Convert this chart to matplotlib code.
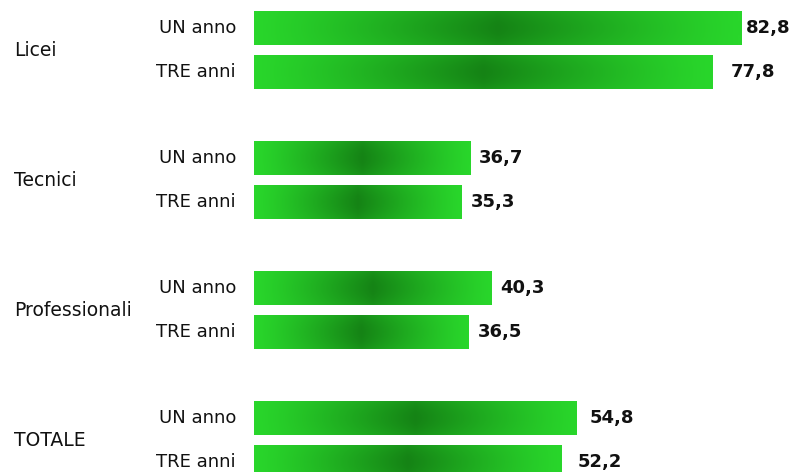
import numpy as np
import matplotlib
matplotlib.use("Agg")
import matplotlib.pyplot as plt
from matplotlib.colors import LinearSegmentedColormap

groups = ["Licei", "Tecnici", "Professionali", "TOTALE"]
periods = ["UN anno", "TRE anni"]
values = [
    [82.8, 77.8],
    [36.7, 35.3],
    [40.3, 36.5],
    [54.8, 52.2],
]

# gap between bar end and its value label, in points
label_pad = [3, 13, 6.5, 6.5, 6, 6, 9.5, 12]

fig = plt.figure(figsize=(7.93, 4.72), dpi=100)
ax = fig.add_axes([254 / 793, 0, 539 / 793, 1])
ax.axis("off")

group_step = 130
row_step = 44
bar_h = 34

# light green at both ends, darker towards the middle of each bar
cmap = LinearSegmentedColormap.from_list("grn", ["#29d62b", "#158315"])
gx = np.linspace(0, 1, 200)
gy = np.linspace(-1, 1, 40)[:, None]
shade = ((1 - np.abs(2 * gx - 1)) ** 1.2)[None, :] * (1 - 0.18 * gy ** 2)
grad = cmap(shade)

ys, vals, labels = [], [], []
for g, grp in enumerate(groups):
    for k, per in enumerate(periods):
        ys.append(g * group_step + 28 + k * row_step)
        vals.append(values[g][k])
        labels.append(per)

bars = ax.barh(ys, vals, height=bar_h, color="none", edgecolor="none")
for bar, y, v in zip(bars, ys, vals):
    im = ax.imshow(grad, extent=[0, v, y + bar_h / 2, y - bar_h / 2],
                   aspect="auto", interpolation="bilinear", zorder=2)
    im.set_clip_path(bar)
ax.set_xlim(0, 539 / 5.89)
ax.set_ylim(472, 0)

for i, (y, v, lab) in enumerate(zip(ys, vals, labels)):
    ax.annotate(lab, xy=(0, y), xytext=(-13, 0), textcoords="offset points",
                ha="right", va="center", fontsize=13, color="#111111",
                annotation_clip=False)
    ax.annotate(f"{v:.1f}".replace(".", ","), xy=(v, y),
                xytext=(label_pad[i], 0), textcoords="offset points",
                ha="left", va="center", fontsize=13, fontweight="bold",
                color="#111111", annotation_clip=False)

for g, grp in enumerate(groups):
    yc = g * group_step + 28 + row_step / 2
    ax.annotate(grp, xy=(0, yc), xycoords=("figure fraction", "data"),
                xytext=(10, 0), textcoords="offset points",
                ha="left", va="center", fontsize=13.5, color="#111111",
                annotation_clip=False)

fig.savefig("out.png", dpi=100)
